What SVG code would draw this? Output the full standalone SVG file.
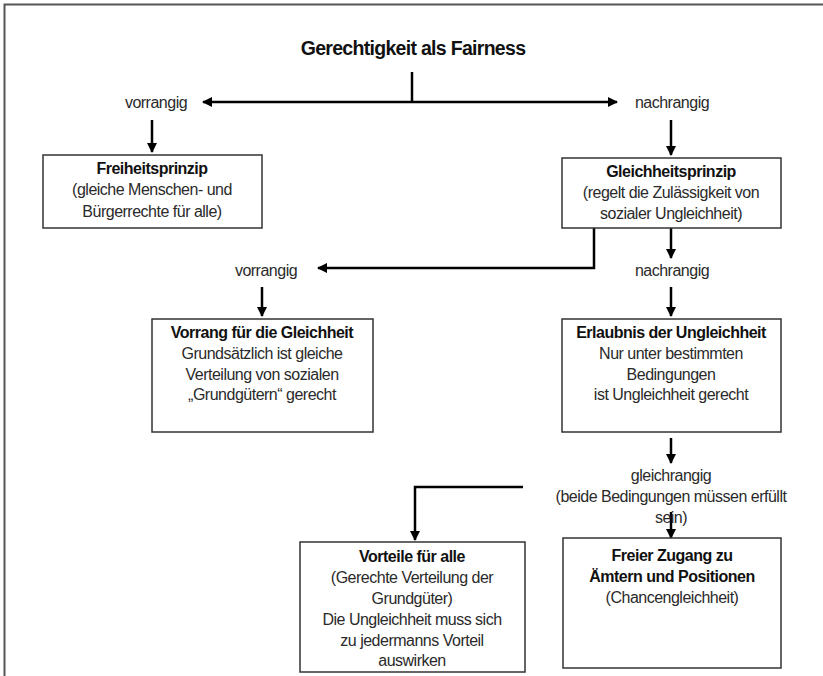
<svg xmlns="http://www.w3.org/2000/svg" width="823" height="676" viewBox="0 0 823 676">
<defs>
<marker id="ah" viewBox="0 0 10 10" refX="9" refY="5" markerWidth="4" markerHeight="4" orient="auto-start-reverse" markerUnits="strokeWidth">
<path d="M0,0 L10,5 L0,10 z" fill="#000"/>
</marker>
<style>
.t{font-family:"Liberation Sans",Arial,sans-serif;font-size:16px;fill:#2a2a2a;text-anchor:middle;letter-spacing:-0.5px}
.b{font-weight:bold;fill:#111}
.box{fill:#fff;stroke:#333;stroke-width:1.5}
.c{fill:none;stroke:#000;stroke-width:2.5}
.a{marker-end:url(#ah)}
</style>
</defs>
<rect x="0" y="0" width="823" height="676" fill="#fff"/>
<path d="M4.5,676 V4.5 H823" fill="none" stroke="#555" stroke-width="2"/>

<text class="t b" x="413" y="55" style="font-size:19.5px;letter-spacing:-0.7px">Gerechtigkeit als Fairness</text>

<g id="connectors">
<line class="c" x1="412" y1="72" x2="412" y2="103"/>
<line class="c" x1="203" y1="102" x2="617" y2="102" marker-start="url(#ah)" marker-end="url(#ah)"/>
<line class="c a" x1="152" y1="120" x2="152" y2="152"/>
<line class="c a" x1="671" y1="120" x2="671" y2="155"/>
<polyline class="c a" points="594,228 594,268 318,268"/>
<line class="c a" x1="671" y1="228" x2="671" y2="258"/>
<line class="c a" x1="262" y1="287" x2="262" y2="316"/>
<line class="c a" x1="671" y1="287" x2="671" y2="316"/>
<line class="c a" x1="671" y1="438" x2="671" y2="463"/>
<polyline class="c a" points="523,487 415,487 415,540"/>
<line class="c a" x1="671" y1="512" x2="671" y2="538"/>
</g>

<g id="labels">
<text class="t" x="156" y="108">vorrangig</text>
<text class="t" x="672" y="108">nachrangig</text>
<text class="t" x="266" y="276">vorrangig</text>
<text class="t" x="672" y="276">nachrangig</text>
<text class="t" x="671" y="481">gleichrangig</text>
<text class="t" x="671" y="502">(beide Bedingungen müssen erfüllt</text>
<text class="t" x="671" y="523">sein)</text>
</g>

<g id="freiheitsprinzip">
<rect class="box" x="43" y="155" width="219" height="73"/>
<text class="t b" x="152" y="174">Freiheitsprinzip</text>
<text class="t" x="152" y="195">(gleiche Menschen- und</text>
<text class="t" x="152" y="217">Bürgerrechte für alle)</text>
</g>

<g id="gleichheitsprinzip">
<rect class="box" x="562" y="158" width="219" height="70"/>
<text class="t b" x="671" y="177">Gleichheitsprinzip</text>
<text class="t" x="671" y="198">(regelt die Zulässigkeit von</text>
<text class="t" x="671" y="219">sozialer Ungleichheit)</text>
</g>

<g id="vorrang">
<rect class="box" x="152" y="319" width="221" height="113"/>
<text class="t b" x="262" y="338">Vorrang für die Gleichheit</text>
<text class="t" x="262" y="359">Grundsätzlich ist gleiche</text>
<text class="t" x="262" y="380">Verteilung von sozialen</text>
<text class="t" x="262" y="400">„Grundgütern“ gerecht</text>
</g>

<g id="erlaubnis">
<rect class="box" x="562" y="319" width="219" height="113"/>
<text class="t b" x="671" y="338">Erlaubnis der Ungleichheit</text>
<text class="t" x="671" y="359">Nur unter bestimmten</text>
<text class="t" x="671" y="380">Bedingungen</text>
<text class="t" x="671" y="400">ist Ungleichheit gerecht</text>
</g>

<g id="vorteile">
<rect class="box" x="300" y="542" width="225" height="130"/>
<text class="t b" x="412" y="562">Vorteile für alle</text>
<text class="t" x="412" y="583">(Gerechte Verteilung der</text>
<text class="t" x="412" y="604">Grundgüter)</text>
<text class="t" x="412" y="625">Die Ungleichheit muss sich</text>
<text class="t" x="412" y="646">zu jedermanns Vorteil</text>
<text class="t" x="412" y="666">auswirken</text>
</g>

<g id="zugang">
<rect class="box" x="563" y="538" width="218" height="130"/>
<text class="t b" x="672" y="561">Freier Zugang zu</text>
<text class="t b" x="672" y="582">Ämtern und Positionen</text>
<text class="t" x="672" y="603">(Chancengleichheit)</text>
</g>
</svg>
